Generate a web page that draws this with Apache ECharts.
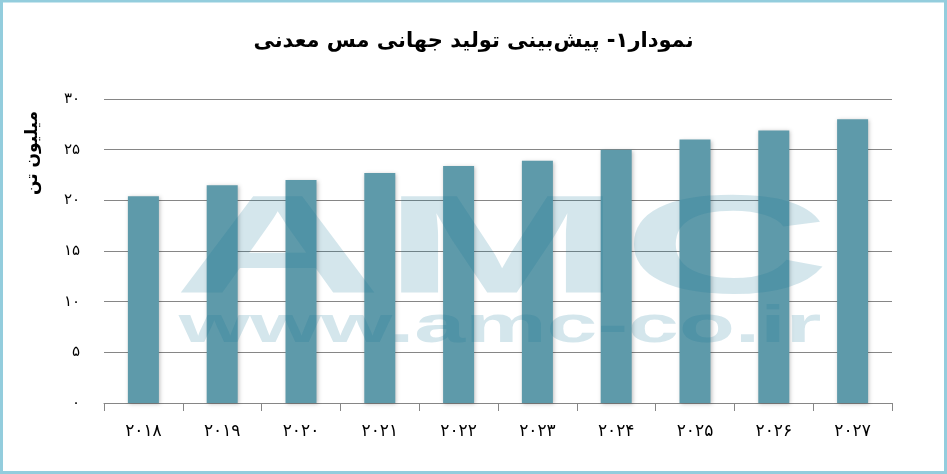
<!DOCTYPE html>
<html>
<head>
<meta charset="utf-8">
<script src="https://cdn.jsdelivr.net/npm/echarts@6/dist/echarts.min.js"></script>
<style>
html,body{margin:0;padding:0;background:#fff;}
#c{width:947px;height:474px;}
</style>
</head>
<body>
<div id="c"></div>
<script>
var titleText = 'نمودار۱- پیش‌بینی تولید جهانی مس معدنی';
var yAxisTitle = 'میلیون تن';
var categories = ['۲۰۱۸','۲۰۱۹','۲۰۲۰','۲۰۲۱','۲۰۲۲','۲۰۲۳','۲۰۲۴','۲۰۲۵','۲۰۲۶','۲۰۲۷'];
var production = [20.4, 21.5, 22.0, 22.7, 23.4, 23.9, 25.0, 26.0, 26.9, 28.0];
var yTickLabels = {0:'۰',5:'۵',10:'۱۰',15:'۱۵',20:'۲۰',25:'۲۵',30:'۳۰'};

var FONT = "'DejaVu Sans', sans-serif";
var chart = echarts.init(document.getElementById('c'));
chart.setOption({
  animation: false,
  backgroundColor: '#ffffff',
  title: {
    text: titleText,
    left: 'center',
    top: 26,
    textStyle: {fontFamily: FONT, fontSize: 21, fontWeight: 'bold', color: '#000'}
  },
  grid: {left: 104, right: 55, top: 99, bottom: 71, containLabel: false},
  xAxis: {
    type: 'category',
    data: categories,
    axisLine: {show: true, lineStyle: {color: '#868686', width: 1}},
    axisTick: {show: true, length: 8, lineStyle: {color: '#868686'}},
    axisLabel: {fontFamily: FONT, fontSize: 17, color: '#000', margin: 20}
  },
  yAxis: {
    type: 'value',
    min: 0, max: 30, interval: 5,
    axisLine: {show: false},
    axisTick: {show: false},
    splitLine: {lineStyle: {color: '#868686', width: 1}},
    axisLabel: {
      fontFamily: FONT, fontSize: 15, color: '#000', margin: 24,
      formatter: function (v) { return yTickLabels[v] !== undefined ? yTickLabels[v] : ''; }
    }
  },
  series: [{
    type: 'bar',
    data: production,
    barWidth: 31,
    itemStyle: {
      color: '#5E9AAA',
      shadowBlur: 4,
      shadowColor: 'rgba(0,0,0,0.25)',
      shadowOffsetX: 1,
      shadowOffsetY: 1
    }
  }],
  graphic: [
    {
      type: 'text', z: 100, silent: true,
      x: 33, y: 153, rotation: Math.PI / 2,
      style: {text: yAxisTitle, fontFamily: FONT, fontSize: 17, fontWeight: 'bold', fill: '#000', align: 'center', verticalAlign: 'middle'}
    },
    {
      type: 'text', z: 100, silent: true,
      x: 502, y: 254, scaleX: 2.06, scaleY: 1,
      style: {text: 'AMC', fontFamily: "'Liberation Sans', Arial, sans-serif", fontSize: 140, fontWeight: 'bold', fill: 'rgba(16,116,150,0.18)', align: 'center', verticalAlign: 'middle'}
    },
    {
      type: 'text', z: 100, silent: true,
      x: 500, y: 328, scaleX: 1.76, scaleY: 1,
      style: {text: 'www.amc-co.ir', fontFamily: "'Liberation Sans', Arial, sans-serif", fontSize: 52, fontWeight: 'bold', fill: 'rgba(16,116,150,0.18)', align: 'center', verticalAlign: 'middle'}
    },
    {
      type: 'rect', z: 100, silent: true,
      shape: {x: 1.5, y: 1, width: 944, height: 471.5},
      style: {fill: 'none', stroke: '#93CDDD', lineWidth: 3}
    }
  ]
});
</script>
</body>
</html>
